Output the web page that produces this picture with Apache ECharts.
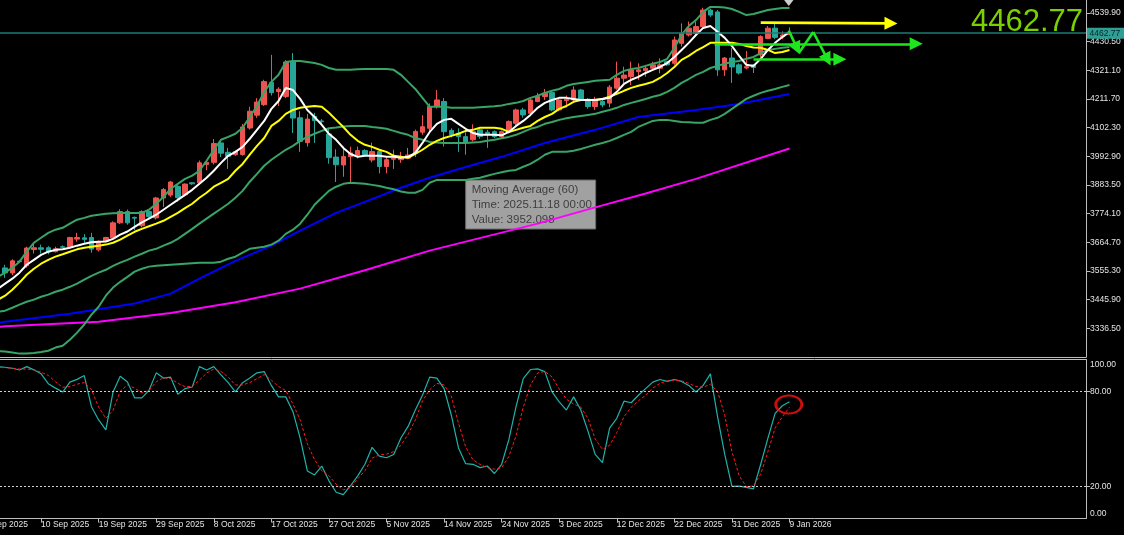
<!DOCTYPE html>
<html>
<head>
<meta charset="utf-8">
<script src="https://cdn.jsdelivr.net/npm/echarts@6/dist/echarts.min.js"></script>
<style>
html,body{margin:0;padding:0;background:#000;}
#c{width:1124px;height:535px;}
</style>
</head>
<body>
<div id="c"></div>
<script>
// ---------------- DATA ----------------
// Daily XAUUSD bars, bar 0 = 4 Sep 2025 ... bar 109 = 9 Jan 2026 (broker shows Sunday bars)
const opens = [3567,3548,3593,3575,3637,3644,3644,3629,3648,3649,
3677,3682,3683,3636,3668,3682,3739,3782,3760,3728,
3782,3758,3834,3845,3878,3846,3892,3892,3962,3970,
4044,4008,3999,4000,4101,4150,4190,4275,4240,4221,
4353,4140,4045,4145,4128,4078,3990,3960,3992,3998,
4015,3979,4011,3954,3982,3980,3986,4005,4085,4100,
4183,4202,4092,4081,4068,4056,4094,4085,4087,4068,
4087,4119,4170,4157,4202,4221,4236,4170,4206,4208,
4246,4211,4183,4202,4196,4253,4291,4297,4316,4320,
4329,4329,4354,4348,4424,4456,4462,4488,4551,4544,
4323,4368,4342,4330,4342,4380,4443,4482,4450,4458];
const highs = [3579,3600,3597,3648,3660,3656,3650,3648,3653,3686,
3701,3696,3701,3672,3686,3745,3791,3790,3763,3787,
3786,3838,3872,3899,3890,3890,3895,3977,3978,4059,
4056,4025,4015,4116,4182,4215,4285,4380,4256,4360,
4387,4165,4155,4159,4135,4100,4020,4030,4030,4030,
4020,4045,4018,3990,4018,4010,4025,4095,4150,4195,
4246,4215,4100,4100,4085,4115,4105,4094,4092,4092,
4130,4175,4178,4215,4235,4250,4240,4215,4225,4260,
4250,4215,4220,4215,4265,4354,4335,4354,4348,4342,
4354,4367,4358,4450,4500,4507,4507,4560,4556,4551,
4372,4406,4348,4395,4345,4455,4490,4500,4470,4485];
const lows = [3529,3540,3588,3568,3622,3622,3619,3626,3642,3645,
3667,3663,3625,3630,3665,3678,3735,3732,3712,3722,
3758,3752,3800,3838,3820,3840,3884,3885,3940,3962,
3990,3945,3995,3995,4095,4140,4185,4225,4185,4215,
4082,4010,4030,4044,4115,3965,3895,3915,3890,3985,
3995,3970,3928,3928,3945,3968,3982,3990,4075,4090,
4175,4030,4065,4010,3999,4050,4060,4025,4062,4060,
4080,4112,4140,4150,4200,4208,4165,4165,4180,4200,
4205,4175,4170,4180,4180,4247,4272,4265,4285,4297,
4323,4310,4338,4342,4412,4450,4450,4480,4525,4300,
4300,4273,4305,4325,4311,4370,4440,4440,4440,4455];
const closes = [3548,3594,3591,3643,3644,3638,3629,3640,3646,3683,
3683,3676,3639,3668,3683,3739,3782,3739,3757,3782,
3763,3834,3866,3895,3835,3887,3888,3968,3970,4042,
4005,3993,4011,4105,4165,4200,4278,4236,4249,4353,
4139,4050,4135,4129,4125,3988,3961,3992,4006,4015,
3998,4011,3954,3980,3986,3988,3998,4088,4106,4183,
4208,4087,4076,4068,4048,4087,4069,4080,4068,4087,
4126,4170,4151,4208,4221,4234,4170,4208,4211,4246,
4208,4183,4211,4189,4257,4291,4303,4323,4323,4329,
4342,4342,4342,4437,4462,4482,4488,4551,4532,4323,
4368,4334,4311,4335,4332,4450,4482,4447,4456,4462.77];

// indicator lines: first value belongs to bar -1 (just off the left edge)
const LINE_START_BAR = -1;
const maFast = [3488,
3507,3526,3549,3579,3598,3617,3629,3636,3638,3644,
3652,3659,3665,3667,3668,3678,3694,3706,3724,3741,
3755,3770,3789,3808,3827,3846,3865,3888,3911,3938,
3968,3995,4010,4029,4060,4094,4128,4174,4204,4254,
4246,4212,4170,4143,4113,4079,4056,4025,4002,3991,
3995,3995,3995,3991,3991,3987,3991,4006,4044,4086,
4117,4132,4136,4117,4098,4082,4075,4075,4075,4073,
4086,4109,4128,4151,4178,4197,4208,4216,4216,4212,
4208,4208,4208,4212,4216,4239,4269,4285,4296,4311,
4323,4334,4349,4372,4399,4426,4456,4483,4490,4468,
4445,4414,4376,4342,4338,4365,4399,4426,4448,4468];
const maSlow = [3446,
3461,3484,3511,3541,3564,3583,3598,3610,3619,3629,
3638,3644,3648,3652,3656,3663,3675,3690,3705,3716,
3726,3736,3747,3762,3777,3795,3812,3835,3854,3877,
3892,3907,3938,3964,3999,4033,4063,4109,4128,4155,
4170,4178,4182,4185,4182,4159,4132,4105,4075,4052,
4037,4029,4018,4010,3995,3991,3987,4002,4018,4037,
4052,4063,4071,4079,4090,4094,4102,4102,4102,4098,
4086,4094,4102,4109,4128,4143,4155,4174,4185,4201,
4208,4208,4208,4212,4220,4231,4243,4254,4262,4269,
4277,4292,4311,4334,4361,4376,4395,4410,4426,4426,
4426,4426,4422,4414,4408,4407,4399,4387,4391,4399];
const bandUpper = [3533,
3549,3568,3591,3629,3663,3682,3701,3713,3720,3736,
3751,3758,3766,3770,3774,3776,3777,3777,3777,3777,
3789,3812,3838,3869,3888,3907,3919,3938,3976,4018,
4056,4067,4079,4102,4143,4185,4239,4277,4304,4353,
4357,4357,4353,4349,4342,4330,4323,4323,4323,4325,
4326,4326,4326,4326,4323,4304,4277,4250,4216,4182,
4182,4182,4178,4178,4178,4178,4180,4182,4184,4187,
4193,4197,4204,4216,4224,4235,4243,4250,4262,4269,
4273,4277,4281,4283,4285,4304,4319,4326,4330,4338,
4346,4353,4365,4407,4456,4490,4513,4544,4563,4563,
4561,4555,4544,4532,4536,4544,4551,4555,4559,4559];
const bandMiddle = [3400,
3404,3415,3427,3438,3446,3457,3465,3476,3484,3495,
3507,3522,3537,3549,3560,3575,3587,3598,3610,3621,
3633,3640,3652,3663,3678,3697,3716,3736,3755,3774,
3793,3812,3835,3861,3896,3926,3957,3980,3999,4018,
4033,4052,4067,4079,4090,4100,4103,4107,4109,4109,
4109,4105,4102,4098,4090,4082,4075,4063,4056,4048,
4046,4044,4044,4044,4044,4046,4048,4052,4056,4062,
4067,4075,4086,4098,4105,4117,4124,4132,4138,4143,
4147,4151,4155,4163,4170,4178,4189,4197,4204,4212,
4220,4227,4239,4254,4273,4288,4304,4315,4330,4338,
4346,4353,4357,4365,4372,4387,4399,4403,4407,4410];
const bandLower = [3249,
3248,3244,3240,3240,3242,3246,3251,3263,3270,3293,
3320,3351,3389,3419,3461,3492,3514,3533,3553,3564,
3572,3575,3577,3579,3581,3583,3585,3587,3587,3587,
3591,3602,3610,3625,3640,3644,3648,3656,3671,3697,
3713,3736,3770,3808,3835,3861,3877,3888,3892,3890,
3888,3884,3880,3873,3867,3859,3854,3854,3865,3892,
3903,3903,3903,3903,3903,3907,3911,3919,3926,3932,
3938,3941,3953,3964,3980,3999,4010,4010,4010,4014,
4021,4029,4037,4044,4052,4063,4075,4086,4105,4117,
4128,4132,4132,4128,4124,4123,4121,4121,4132,4140,
4155,4174,4193,4212,4224,4235,4243,4250,4258,4265];
// smooth long averages: points read at these bars
const ma60Points = [[-1,3358],[0,3362],[9,3392],[18,3431],[23,3469],[27,3526],[32,3594],[37,3652],[41,3709],[46,3777],[50,3819],[55,3873],[59,3911],[64,3952.098],[69,3991],[75,4044],[82,4094],[88,4143],[96,4170],[102,4193],[109,4231]];
const ma120Points = [[-1,3342],[0,3344],[13,3362],[23,3395],[32,3436],[41,3488],[50,3558],[59,3633],[74,3736],[82,3798],[89,3851],[96,3907],[109,4023]];

// stochastic (%K, %D), first value = bar -1
const stochK = [95.5,
95,94.5,93.4,95.5,93.5,91,84.8,82,79.5,85.8,
87.5,89.9,70.3,62,55.8,79.6,89.5,85.8,75.9,75.9,
80.6,91.6,88.3,88.9,78.1,81.7,82.7,95.5,93.4,95.5,
90.3,85.4,79.6,85.4,88.3,91.6,92.4,83.7,76.5,76.5,
67.2,50.6,29.9,27.4,33,23.7,16.5,15,20.6,26.8,
34.1,44.8,39.2,38.2,40.3,50.6,57.9,68.2,77.5,88.9,
88.3,81.7,65.1,44.4,34.5,34.1,32,33,28.3,34.1,
49.6,70.3,87.9,93.7,94.1,92.4,79.6,73.4,68.2,76.5,
68.2,54.8,40.3,35.1,56.8,63,73.8,72.8,77.5,81.7,
85.8,87.4,86.2,87.4,86.2,83.7,79.6,83.7,91,64.1,
40.3,20.2,20.4,19.6,18.6,34.1,50.6,66.1,70.9,73.4];
const stochD = [95,
95,94.5,94,94,93.5,92,90,86,82.5,83,
84.5,85.5,81,70,63,68,80,84,82,79,
80.5,86,88.5,88,85,83,83,87,91.5,94,
92.5,89,84,84,85.5,88,90.5,87,83,80.5,
72,62,47,37,30,27,21.5,18,19.5,25,
30,38,40,40.5,42,46,53,62,74,81,
85,84,77,60,45,37,34,32,31,32,
39,52,70,84,91.5,92.5,89,81.5,75,72,
70,63,50,43.5,46,54,64,70,74,77.5,
82,85,86.5,87,86.5,85,83,82.5,84.5,80,
65,42,27,20,20.5,28,42,57,64,70];
const stochLevels = [80, 20];
const stochTicks = [0, 20, 80, 100];

// axis tick labels
const priceTicks = [3336.5,3445.9,3555.3,3664.7,3774.1,3883.5,3992.9,4102.3,4211.7,4321.1,4430.5,4539.9];
const dateTickBars = [-3,5,13,21,29,37,45,53,61,69,77,85,93,101,109];
const dateTickLabels = ['1 Sep 2025','10 Sep 2025','19 Sep 2025','29 Sep 2025','8 Oct 2025','17 Oct 2025','27 Oct 2025','5 Nov 2025','14 Nov 2025','24 Nov 2025','3 Dec 2025','12 Dec 2025','22 Dec 2025','31 Dec 2025','9 Jan 2026'];

// drawn objects (bar, price)
const yellowArrow = [[105.0,4503.3],[123.1,4500.2]];
const greenArrowLong = [[98.6,4422.4],[126.6,4422.4]];
const greenArrowShort = [[104.0,4363.2],[116.0,4363.2]];
const zigDown1 = [[108.9,4473.1],[110.05,4404.8]];
const zigUp = [[110.3,4387.2],[112.3,4467.4]];
const zigDown2 = [[112.3,4467.4],[114.3,4362.0]];
const diamondMark = [108.9, 4593.3];
const stochCircle = [108.9, 71.7];
const hoverTip = {bar: 64, title: 'Moving Average (60)', time: '2025.11.18 00:00'};

// ---------------- CHART ----------------
const lastPrice = closes[closes.length - 1];
const X_MIN = -0.709, X_MAX = 150.2;
const Y_MIN = 3227.1, Y_MAX = 4589.5;
const AXIS = '#bdbdbd', TXT = '#e4e4e4', FONT = 'Liberation Sans';
const GREEN = '#38a466';

const lineData = arr => arr.map((v, k) => [k + LINE_START_BAR, v]);
const candleData = opens.map((o, i) => [i, o, closes[i], lows[i], highs[i]]);

const chart = echarts.init(document.getElementById('c'), null, {renderer: 'canvas'});

function ln(data, color, width, extra) {
  return Object.assign({
    type: 'line', xAxisIndex: 0, yAxisIndex: 0, data: data, symbol: 'none',
    silent: true, lineStyle: {color: color, width: width}, z: 3
  }, extra || {});
}
function arrows(color, items, sym) {
  return {
    type: 'lines', coordinateSystem: 'cartesian2d', xAxisIndex: 0, yAxisIndex: 0,
    symbol: sym ? ['none', 'triangle'] : ['none', 'none'], symbolSize: 13, silent: true,
    lineStyle: {color: color, width: 2.6, opacity: 1, curveness: 0},
    data: items.map(c => ({coords: c})), z: 10
  };
}

const option = {
  backgroundColor: '#000000',
  animation: false,
  textStyle: {fontFamily: FONT},
  grid: [
    {left: 0, right: 38, top: 0, height: 357},
    {left: 0, right: 38, top: 359.5, height: 159}
  ],
  xAxis: [
    {gridIndex: 0, type: 'value', min: X_MIN, max: X_MAX,
     axisLine: {show: true, onZero: false, lineStyle: {color: AXIS}},
     axisTick: {show: false}, axisLabel: {show: false}, splitLine: {show: false}},
    {gridIndex: 1, type: 'value', min: X_MIN, max: X_MAX, position: 'bottom',
     axisLine: {show: true, onZero: false, lineStyle: {color: AXIS}},
     axisTick: {show: true, customValues: dateTickBars, length: 4, lineStyle: {color: AXIS}},
     axisLabel: {show: true, customValues: dateTickBars, align: 'left', margin: 2,
       color: TXT, fontSize: 8.5, fontFamily: FONT,
       formatter: v => { const k = dateTickBars.findIndex(b => Math.abs(b - v) < 1e-6); return k >= 0 ? dateTickLabels[k] : ''; }},
     splitLine: {show: false}},
    {gridIndex: 1, type: 'value', min: X_MIN, max: X_MAX, position: 'top',
     axisLine: {show: true, onZero: false, lineStyle: {color: AXIS}},
     axisTick: {show: false}, axisLabel: {show: false}, splitLine: {show: false}}
  ],
  yAxis: [
    {gridIndex: 0, type: 'value', position: 'right', min: Y_MIN, max: Y_MAX,
     axisLine: {show: true, onZero: false, lineStyle: {color: AXIS}},
     axisTick: {show: true, customValues: priceTicks, length: 4, lineStyle: {color: AXIS}},
     axisLabel: {show: true, customValues: priceTicks, margin: 4, color: TXT, fontSize: 8.5, fontFamily: FONT,
       formatter: v => v.toFixed(2)},
     splitLine: {show: false}},
    {gridIndex: 1, type: 'value', position: 'right', min: 0, max: 100,
     axisLine: {show: true, onZero: false, lineStyle: {color: AXIS}},
     axisTick: {show: true, customValues: stochLevels, length: 4, lineStyle: {color: AXIS}},
     axisLabel: {show: true, customValues: stochTicks, margin: 4, color: TXT, fontSize: 8.5, fontFamily: FONT,
       formatter: v => v === 100 ? '{t|100.00}' : (v === 0 ? '{b|0.00}' : v.toFixed(2)),
       rich: {
         t: {padding: [11, 0, 0, 0], color: TXT, fontSize: 8.5, fontFamily: FONT},
         b: {padding: [0, 0, 10, 0], color: TXT, fontSize: 8.5, fontFamily: FONT}
       }},
     splitLine: {show: false}}
  ],
  series: [
    {type: 'candlestick', xAxisIndex: 0, yAxisIndex: 0, data: candleData, barWidth: 5, silent: true,
     itemStyle: {color: '#ef5350', color0: '#26a69a', borderColor: '#ef5350', borderColor0: '#26a69a', borderWidth: 1},
     markLine: {silent: true, symbol: ['none', 'none'], label: {show: false},
       lineStyle: {color: '#1b7b73', width: 1.5, type: 'solid'}, data: [{yAxis: lastPrice}]}, z: 2},
    ln(ma120Points, '#ff00ff', 2),
    ln(ma60Points, '#0000ff', 2),
    ln(lineData(bandLower), GREEN, 2),
    ln(lineData(bandMiddle), GREEN, 2),
    ln(lineData(bandUpper), GREEN, 2),
    ln(lineData(maSlow), '#ffff00', 2),
    ln(lineData(maFast), '#ffffff', 2),
    arrows('#ffff00', [yellowArrow], true),
    arrows('#1ee61e', [greenArrowLong, greenArrowShort, zigDown1, zigDown2], true),
    arrows('#1ee61e', [zigUp], false),
    {type: 'scatter', xAxisIndex: 0, yAxisIndex: 0, data: [diamondMark], symbol: 'diamond',
     symbolSize: [11, 14], clip: false, silent: true, itemStyle: {color: '#ffffff'}, z: 10},
    {type: 'line', xAxisIndex: 1, yAxisIndex: 1, data: lineData(stochK), symbol: 'none', silent: true,
     lineStyle: {color: '#20b2aa', width: 1.2},
     markLine: {silent: true, symbol: ['none', 'none'], label: {show: false},
       lineStyle: {color: '#cfcfcf', type: [2, 2], width: 1}, data: stochLevels.map(v => ({yAxis: v}))}},
    {type: 'line', xAxisIndex: 1, yAxisIndex: 1, data: lineData(stochD), symbol: 'none', silent: true,
     lineStyle: {color: '#ff1a1a', width: 1, type: [3, 2]}},
    {type: 'scatter', xAxisIndex: 1, yAxisIndex: 1, data: [stochCircle], symbol: 'circle',
     symbolSize: [26, 18], silent: true, clip: false,
     itemStyle: {color: 'rgba(0,0,0,0)', borderColor: '#ff1010', borderWidth: 2.5}, z: 10}
  ]
};
chart.setOption(option);

// ---------- overlays anchored to data ----------
const mainFinder = {xAxisIndex: 0, yAxisIndex: 0};
const lowFinder = {xAxisIndex: 1, yAxisIndex: 1};
const pPrice = chart.convertToPixel(mainFinder, [0, lastPrice]);
const tipVal = ma60Points.find(p => p[0] === hoverTip.bar)[1];
const pTip = chart.convertToPixel(mainFinder, [hoverTip.bar, tipVal]);
const pFirstDate = chart.convertToPixel(lowFinder, [dateTickBars[0], 0]);

const txt = (x, y, text, font, fill, align, valign) => ({
  type: 'text', x: x, y: y, silent: true,
  style: {text: text, font: font, fill: fill, align: align, verticalAlign: valign,
          textAlign: align, textVerticalAlign: valign}
});

chart.setOption({
  graphic: [
    txt(1083, 22, lastPrice.toFixed(2), '31px "Liberation Sans"', '#7cd000', 'right', 'middle'),
    {type: 'rect', silent: true, shape: {x: 1087, y: pPrice[1] - 5.5, width: 37, height: 11},
     style: {fill: '#2f9e95'}, z: 100},
    Object.assign(txt(1089.5, pPrice[1], lastPrice.toFixed(2), '8.5px "Liberation Sans"', '#062a27', 'left', 'middle'), {z: 101}),
    {type: 'group', x: pTip[0], y: pTip[1] + 13, z: 100, silent: true, children: [
      {type: 'rect', shape: {x: 0, y: 0, width: 130, height: 49},
       style: {fill: 'rgba(233,233,233,0.69)', stroke: '#6a6a6a', lineWidth: 1}},
      txt(6, 9.5, hoverTip.title, '11.5px "Liberation Sans"', '#3e3e3e', 'left', 'middle'),
      txt(6, 24.5, 'Time: ' + hoverTip.time, '11.5px "Liberation Sans"', '#3e3e3e', 'left', 'middle'),
      txt(6, 39.5, 'Value: ' + tipVal.toFixed(3), '11.5px "Liberation Sans"', '#3e3e3e', 'left', 'middle')
    ]},
    txt(pFirstDate[0] + 1, pFirstDate[1] + 2, dateTickLabels[0], '8.5px "Liberation Sans"', TXT, 'left', 'top')
  ]
});
</script>
</body>
</html>
